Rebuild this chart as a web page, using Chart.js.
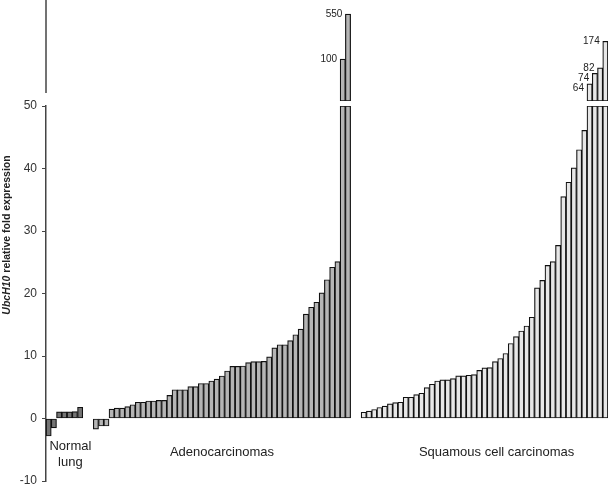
<!DOCTYPE html>
<html>
<head>
<meta charset="utf-8">
<script src="https://cdn.jsdelivr.net/npm/chart.js@4.4.1/dist/chart.umd.min.js"></script>
<style>
  html, body { margin: 0; padding: 0; background: #fff; }
  #wrap { position: relative; width: 608px; height: 486px; }
</style>
</head>
<body>
<div id="wrap"><canvas id="chart" width="608" height="486"></canvas></div>
<script>
// UbcH10 relative fold expression, one value per sample, sorted inside each group
const normalLung = [-2.8, -1.5, 1.05, 1.05, 1.05, 1.1, 1.8];
const adenocarcinomas = [-1.7, -1.2, -1.2, 1.5, 1.65, 1.65, 1.9, 2.2, 2.6, 2.6,
  2.8, 2.8, 2.9, 2.9, 3.7, 4.6, 4.6, 4.6, 5.1, 5.1,
  5.6, 5.6, 6.0, 6.3, 6.8, 7.6, 8.35, 8.35, 8.4, 8.95,
  9.1, 9.1, 9.15, 9.85, 11.3, 11.8, 11.8, 12.45, 13.4, 14.3,
  16.7, 17.8, 18.6, 20.1, 22.2, 24.2, 25.1, 100, 550];
const squamousCell = [1.0, 1.17, 1.44, 1.76, 1.97, 2.34, 2.55, 2.6, 3.4, 3.4,
  3.83, 4.04, 4.95, 5.48, 6.0, 6.17, 6.17, 6.39, 6.82, 6.82,
  6.92, 7.03, 7.7, 8.1, 8.15, 9.1, 9.6, 10.4, 12.0, 13.1,
  14.0, 14.8, 16.2, 20.9, 22.1, 24.5, 25.1, 27.7, 35.5, 37.8,
  40.1, 43.0, 46.1, 64, 74, 82, 174];
const groupNames = [['Normal', 'lung'], ['Adenocarcinomas'], ['Squamous cell carcinomas']];
const yTicks = [-10, 0, 10, 20, 30, 40, 50];
const axisBreak = 50;   // anything above goes to the top panel (excess, log axis)

const groupColors = ['#747474', '#b5b5b5', '#e7e7e7'];
const groupGap = 2;     // empty slots between groups
const axisColor = '#444';
const FONT = '"Liberation Sans", Arial, Helvetica, sans-serif';

// flatten groups into one category row with gaps
const groups = [normalLung, adenocarcinomas, squamousCell];
const values = [], colors = [], spans = [];
groups.forEach((g, gi) => {
  if (gi > 0) for (let k = 0; k < groupGap; k++) { values.push(null); colors.push('rgba(0,0,0,0)'); }
  const start = values.length;
  g.forEach(v => { values.push(v); colors.push(groupColors[gi]); });
  spans.push([start, values.length - 1]);
});
const lowerData = values.map(v => v === null ? null : Math.min(v, axisBreak));
const upperData = values.map(v => v !== null && v > axisBreak ? v - axisBreak : null);

const barStyle = {
  backgroundColor: colors,
  borderColor: '#111',
  borderWidth: 1.2,
  borderSkipped: false,
  grouped: false,
  barPercentage: 1,
  categoryPercentage: 1
};

// same width for the stacked y axes, and no label overhang padding
const fixWidth = s => {
  s.width = 46;
  s.paddingTop = 0;
  s.paddingBottom = 0;
};

// texts: axis title, group names, values of the broken bars
const textPlugin = {
  id: 'texts',
  afterDraw(chart) {
    const ctx = chart.ctx;
    const x = chart.scales.x, y = chart.scales.y, yTop = chart.scales.yTop;
    const zeroY = y.getPixelForValue(0);
    ctx.save();

    // axis line of the top panel stops a little above the bar bases
    ctx.strokeStyle = axisColor;
    ctx.lineWidth = 1.5;
    ctx.beginPath();
    ctx.moveTo(yTop.right, yTop.top);
    ctx.lineTo(yTop.right, yTop.bottom - 8);
    ctx.stroke();

    ctx.fillStyle = '#222';

    // y title, "UbcH10" in bold italic
    ctx.save();
    ctx.translate(10, 235);
    ctx.rotate(-Math.PI / 2);
    ctx.textBaseline = 'alphabetic';
    ctx.textAlign = 'left';
    const f1 = 'italic bold 10.5px ' + FONT, f2 = 'bold 10.5px ' + FONT;
    const t1 = 'UbcH10', t2 = ' relative fold expression';
    ctx.font = f1; const w1 = ctx.measureText(t1).width;
    ctx.font = f2; const w2 = ctx.measureText(t2).width;
    let sx = -(w1 + w2) / 2;
    ctx.font = f1; ctx.fillText(t1, sx, 0);
    ctx.font = f2; ctx.fillText(t2, sx + w1, 0);
    ctx.restore();

    // group names under the bars
    ctx.font = '13px ' + FONT;
    ctx.textAlign = 'center';
    ctx.textBaseline = 'alphabetic';
    const nudge = [6, 0, 12];
    groupNames.forEach((lines, gi) => {
      const cx = x.getPixelForValue((spans[gi][0] + spans[gi][1]) / 2) + nudge[gi];
      if (lines.length === 2) {
        ctx.fillText(lines[0], cx, zeroY + 31);
        ctx.fillText(lines[1], cx, zeroY + 47);
      } else {
        ctx.fillText(lines[0], cx, zeroY + 37);
      }
    });

    // real values next to the broken bars, right to left so close ones do not collide
    ctx.font = '10px ' + FONT;
    ctx.textAlign = 'right';
    ctx.textBaseline = 'middle';
    const bars = chart.getDatasetMeta(1).data;
    let prevIdx = -10, prevY = 0;
    for (let i = bars.length - 1; i >= 0; i--) {
      if (upperData[i] === null) continue;
      const el = bars[i];
      let ly = el.y;
      if (prevIdx === i + 1 && Math.abs(ly - prevY) < 10) ly = prevY + 10;
      ctx.fillText(String(values[i]), el.x - el.width / 2 - 3, ly);
      prevIdx = i; prevY = ly;
    }
    ctx.restore();
  }
};

new Chart(document.getElementById('chart'), {
  type: 'bar',
  data: {
    labels: values.map((_, i) => String(i)),
    datasets: [
      Object.assign({ data: lowerData, yAxisID: 'y' }, barStyle),
      Object.assign({ data: upperData, yAxisID: 'yTop' }, barStyle)
    ]
  },
  options: {
    responsive: false,
    animation: false,
    layout: { autoPadding: false, padding: { left: 0, right: 0, top: 0, bottom: 5 } },
    plugins: { legend: { display: false }, tooltip: { enabled: false } },
    scales: {
      x: { type: 'category', display: false, offset: true },
      y: {
        type: 'linear', position: 'left', stack: 'v', stackWeight: 375, weight: 1,
        min: -10, max: 50,
        afterBuildTicks: s => { s.ticks = yTicks.map(v => ({ value: v })); },
        afterFit: fixWidth,
        ticks: { color: '#333', padding: 5, font: { size: 12, family: FONT } },
        grid: { display: true, drawOnChartArea: false, drawTicks: true, tickLength: 4, color: axisColor, lineWidth: 1 },
        border: { display: true, color: axisColor, width: 1.5 }
      },
      yGap: {
        type: 'linear', position: 'left', stack: 'v', stackWeight: 5, weight: 2,
        afterFit: fixWidth,
        ticks: { display: false }, grid: { display: false }, border: { display: false }
      },
      yTop: {
        type: 'logarithmic', position: 'left', stack: 'v', stackWeight: 101, weight: 3,
        min: 5.85, max: 1026,
        afterFit: fixWidth,
        ticks: { display: false }, grid: { display: false }, border: { display: false }
      }
    }
  },
  plugins: [textPlugin]
});
</script>
</body>
</html>
